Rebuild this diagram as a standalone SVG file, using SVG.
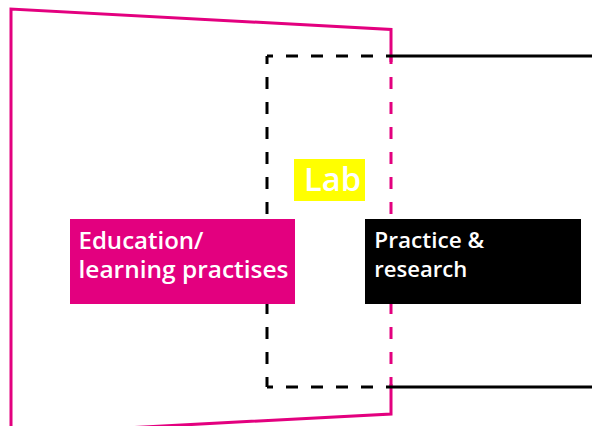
<svg xmlns="http://www.w3.org/2000/svg" width="592" height="426" viewBox="0 0 592 426">
<style>
.mag{fill:none;stroke:#E3007F;stroke-width:3}
.blk{fill:none;stroke:#000;stroke-width:3}
.dash{stroke-dasharray:12 13}
.lbl{fill:#fff;font-family:"Open Sans","Liberation Sans",sans-serif;font-weight:600}
</style>
<rect width="592" height="426" fill="#fff"/>
<g id="connectors">
<path class="mag" d="M11 440 V9 L391 29.5 V62"/>
<path class="mag" d="M391 384 V414 L11 434"/>
<line class="mag dash" x1="391" y1="56" x2="391" y2="387" style="stroke-dashoffset:4"/>
<line class="blk dash" x1="267" y1="56" x2="267" y2="387" style="stroke-dashoffset:4"/>
<line class="blk dash" x1="267" y1="56" x2="391" y2="56" style="stroke-dashoffset:6"/>
<line class="blk dash" x1="267" y1="387" x2="391" y2="387" style="stroke-dashoffset:6"/>
<line class="blk" x1="391" y1="56" x2="592" y2="56"/>
<line class="blk" x1="391" y1="387" x2="592" y2="387"/>
</g>
<g id="lab">
<rect x="294" y="159" width="71" height="42" fill="#FFFF00"/>
<text class="lbl" x="304" y="191" font-size="33" textLength="57" lengthAdjust="spacingAndGlyphs">Lab</text>
</g>
<g id="education">
<rect x="70" y="219" width="225" height="85" fill="#E3007F"/>
<text class="lbl" x="78.5" y="249" font-size="23" textLength="125" lengthAdjust="spacingAndGlyphs">Education/</text>
<text class="lbl" x="78.5" y="278" font-size="23" textLength="210" lengthAdjust="spacingAndGlyphs">learning practises</text>
</g>
<g id="practice">
<rect x="365" y="219" width="216" height="85" fill="#000"/>
<text class="lbl" x="374.3" y="248" font-size="21" textLength="110" lengthAdjust="spacingAndGlyphs">Practice &amp;</text>
<text class="lbl" x="374.3" y="277" font-size="21" textLength="93" lengthAdjust="spacingAndGlyphs">research</text>
</g>
</svg>
